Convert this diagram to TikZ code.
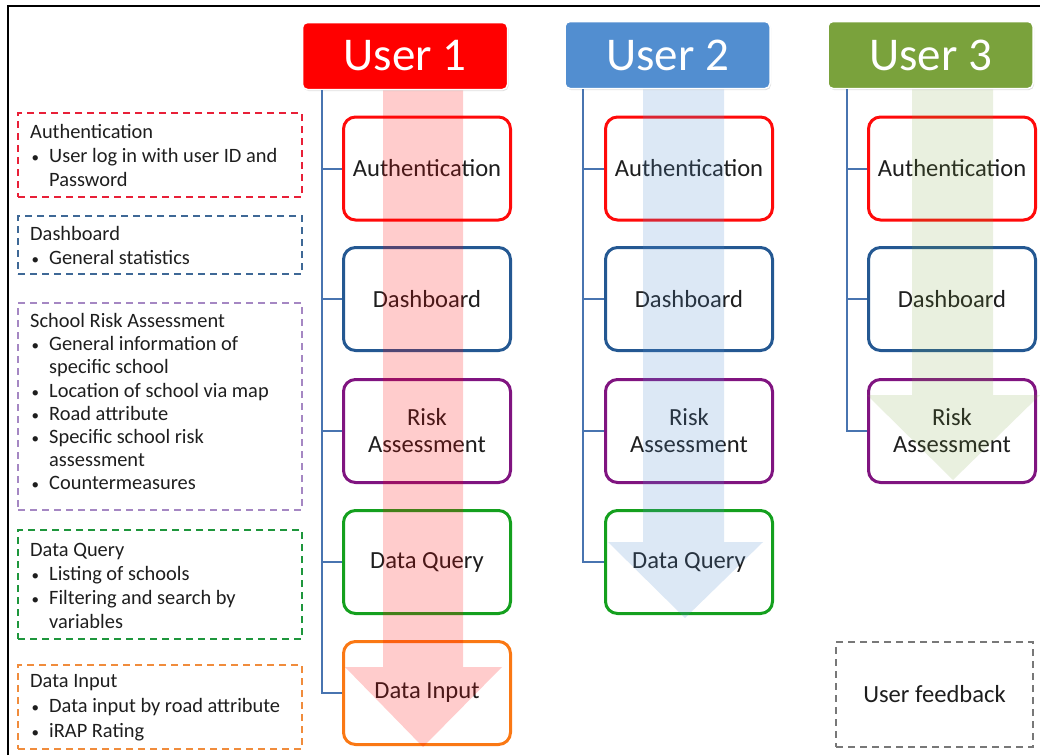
\documentclass[tikz,border=0pt]{standalone}
\usepackage{fontspec}
\setmainfont{Carlito}
\usetikzlibrary{shadows}

\definecolor{hdred}{RGB}{255,0,0}
\definecolor{hdblue}{RGB}{82,142,208}
\definecolor{hdgreen}{RGB}{122,162,60}
\definecolor{bxred}{RGB}{255,10,10}
\definecolor{bxblue}{RGB}{36,88,146}
\definecolor{bxpurple}{RGB}{128,20,128}
\definecolor{bxgreen}{RGB}{20,160,30}
\definecolor{bxorange}{RGB}{250,120,20}
\definecolor{dsred}{RGB}{232,32,56}
\definecolor{dsblue}{RGB}{62,104,150}
\definecolor{dspurple}{RGB}{165,135,195}
\definecolor{dsgreen}{RGB}{30,150,60}
\definecolor{dsorange}{RGB}{240,140,60}
\definecolor{dsgray}{RGB}{120,120,120}
\definecolor{trunk}{RGB}{72,116,176}
\definecolor{txt}{RGB}{30,30,30}

% bullet and continuation indent for the legend lists
\newcommand\bl{\makebox[19pt][l]{\hspace{1.5pt}{\fontsize{15}{15}\selectfont\textbullet}}}
\newcommand\ct{\hspace*{19pt}}

\begin{document}
\begin{tikzpicture}[x=1pt,y=-1pt,
  header/.style={draw=white, line width=1.5pt, rounded corners=5pt,
    minimum width=205pt, minimum height=67pt, text=white, inner sep=0pt,
    font=\fontsize{47}{50}\selectfont,
    drop shadow={opacity=0.25, shadow xshift=1pt, shadow yshift=-1.5pt}},
  stage/.style={draw, line width=3pt, rounded corners=12pt, fill=white,
    minimum width=167pt, minimum height=103pt, align=center, text=txt,
    inner sep=0pt, font=\fontsize{24.6}{27}\selectfont},
  legend/.style={line width=2pt, dash pattern=on 7pt off 5pt,
    minimum width=284pt, inner sep=0pt},
  legtext/.style={anchor=north west, inner sep=0pt, align=left, text=txt},
  conn/.style={draw=trunk, line width=2pt},
  flow/.style={fill opacity=0.2, draw=none}]

\useasboundingbox (0,0) rectangle (1040,755);
% frame
\draw[line width=2.5pt] (8,755) -- (8,6) -- (1040,6);

% ---- legend boxes ----
\node[legend, draw=dsred, minimum height=84pt] (lauth) at (160,155) {};
\node[legtext, font=\fontsize{20.4}{24}\selectfont] (tauth) at (30,121.2)
  {\strut Authentication\\ \bl User log in with user ID and\\ \ct Password};

\node[legend, draw=dsblue, minimum height=58pt] (ldash) at (160,245) {};
\node[legtext, font=\fontsize{20.4}{24}\selectfont] (tdash) at (30,223.2)
  {\strut Dashboard\\ \bl General statistics};

\node[legend, draw=dspurple, minimum height=207pt] (lrisk) at (160,406.5) {};
\node[legtext, font=\fontsize{20.4}{23.2}\selectfont] (trisk) at (30,311.1)
  {\strut School Risk Assessment\\ \bl General information of\\ \ct specific school\\
   \bl Location of school via map\\ \bl Road attribute\\ \bl Specific school risk\\
   \ct assessment\\ \bl Countermeasures};

\node[legend, draw=dsgreen, minimum height=109pt] (lquery) at (160,584.5) {};
\node[legtext, font=\fontsize{20.4}{24}\selectfont] (tquery) at (30,539.2)
  {\strut Data Query\\ \bl Listing of schools\\ \bl Filtering and search by\\ \ct variables};

\node[legend, draw=dsorange, minimum height=84pt] (linput) at (160,707) {};
\node[legtext, font=\fontsize{20.4}{25}\selectfont] (tinput) at (30,669.5)
  {\strut Data Input\\ \bl Data input by road attribute\\ \bl iRAP Rating};

% ---- user 1 column ----
\node[stage, draw=bxred]    (a1) at (427,168.5) {Authentication};
\node[stage, draw=bxblue]   (d1) at (427,299)   {Dashboard};
\node[stage, draw=bxpurple] (r1) at (427,431)   {Risk\\Assessment};
\node[stage, draw=bxgreen]  (q1) at (427,562)   {Data Query};
\node[stage, draw=bxorange] (i1) at (427,693)   {Data Input};

% ---- user 2 column ----
\node[stage, draw=bxred]    (a2) at (689,168.5) {Authentication};
\node[stage, draw=bxblue]   (d2) at (689,299)   {Dashboard};
\node[stage, draw=bxpurple] (r2) at (689,431)   {Risk\\Assessment};
\node[stage, draw=bxgreen]  (q2) at (689,562)   {Data Query};

% ---- user 3 column ----
\node[stage, draw=bxred]    (a3) at (952,168.5) {Authentication};
\node[stage, draw=bxblue]   (d3) at (952,299)   {Dashboard};
\node[stage, draw=bxpurple] (r3) at (952,431)   {Risk\\Assessment};

% ---- user feedback ----
\node[draw=dsgray, line width=1.5pt, dash pattern=on 7pt off 5pt,
  minimum width=197pt, minimum height=105pt, text=txt,
  font=\fontsize{24.6}{27}\selectfont] (fb) at (934.5,694.5) {User feedback};

% ---- translucent flow arrows ----
\fill[flow, fill=hdred]
  (383,80) -- (463,80) -- (463,667) -- (502,667) -- (423,747)
  -- (345,667) -- (383,667) -- cycle;
\fill[flow, fill=hdblue]
  (643,80) -- (724,80) -- (724,542) -- (763,542) -- (685,618)
  -- (608,542) -- (643,542) -- cycle;
\fill[flow, fill=hdgreen, fill opacity=0.16]
  (912,80) -- (993,80) -- (993,395) -- (1040,395) -- (953,480)
  -- (867,395) -- (912,395) -- cycle;

% ---- headers ----
\node[header, fill=hdred]   (u1) at (405,56)   {User 1};
\node[header, fill=hdblue]  (u2) at (667.5,55) {User 2};
\node[header, fill=hdgreen] (u3) at (930.5,55) {User 3};

% ---- tree connectors ----
\coordinate (t1) at ([xshift=20pt]u1.south west);
\coordinate (t2) at ([xshift=19pt]u2.south west);
\coordinate (t3) at ([xshift=20pt]u3.south west);
\foreach \b in {a1,d1,r1,q1,i1} \draw[conn] (t1) |- (\b.west);
\foreach \b in {a2,d2,r2,q2} \draw[conn] (t2) |- (\b.west);
\foreach \b in {a3,d3,r3} \draw[conn] (t3) |- (\b.west);
\end{tikzpicture}
\end{document}
